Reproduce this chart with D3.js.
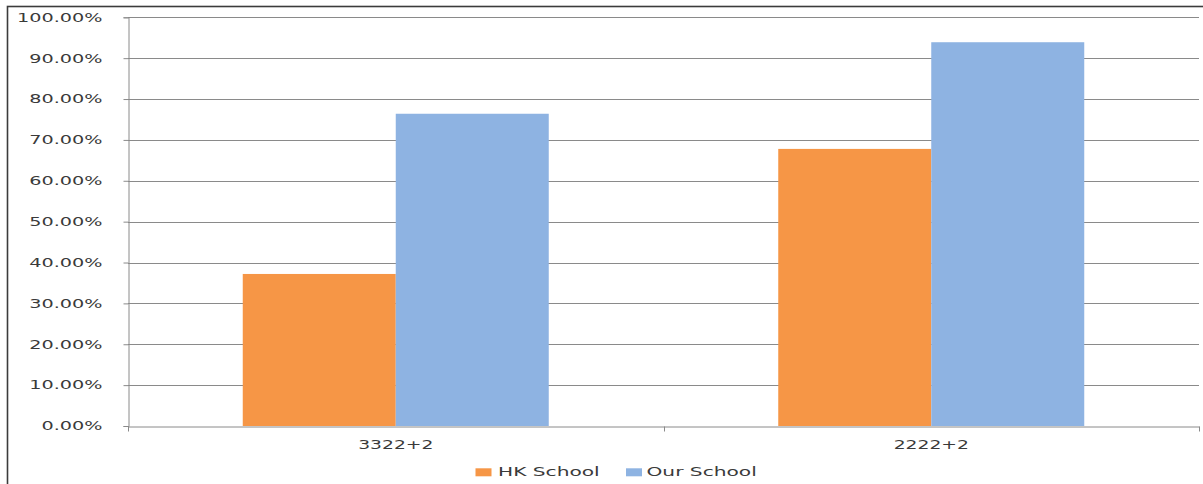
<!DOCTYPE html>
<html>
<head>
<meta charset="utf-8">
<script src="https://cdn.jsdelivr.net/npm/d3@7"></script>
<style>
  html, body { margin: 0; padding: 0; background: #fff; }
  svg { display: block; }
  text { font-family: "DejaVu Sans", Verdana, sans-serif; fill: #3a3a3a; }
</style>
</head>
<body>
<svg id="chart" width="1203" height="484"></svg>
<script>
// Pass rates by subject combination
const categories = ["3322+2", "2222+2"];
const seriesNames = ["HK School", "Our School"];
const hkSchool = [0.372, 0.678];
const ourSchool = [0.764, 0.939];
const yTicks = [0, 0.1, 0.2, 0.3, 0.4, 0.5, 0.6, 0.7, 0.8, 0.9, 1.0];
const colors = ["#F69646", "#8EB3E2"];

const svg = d3.select("#chart");
const W = 1203, H = 484;
const plot = { left: 128, right: 1199, top: 17.3, bottom: 426 };

// outer frame (right/bottom edges fall outside the view)
svg.append("rect")
  .attr("x", 7.5).attr("y", 6.5)
  .attr("width", W + 10).attr("height", H + 10)
  .attr("fill", "#fff").attr("stroke", "#3c3c3c").attr("stroke-width", 1.6);

const x0 = d3.scaleBand().domain(categories).range([plot.left, plot.right]).paddingInner(0).paddingOuter(0);
// gap width of 150% of a bar, split evenly on both sides of the pair
const x1 = d3.scaleBand().domain(seriesNames).range([0, x0.bandwidth()]).paddingInner(0).paddingOuter(0.75);
const y = d3.scaleLinear().domain([0, 1]).range([plot.bottom, plot.top]);

// stretch text horizontally to its wide set width
function widen(sel, factor) {
  sel.each(function () {
    const w = this.getComputedTextLength();
    d3.select(this).attr("textLength", w * factor).attr("lengthAdjust", "spacingAndGlyphs");
  });
}

// gridlines
svg.append("g").selectAll("line").data(yTicks.slice(1)).join("line")
  .attr("x1", plot.left).attr("x2", plot.right)
  .attr("y1", d => Math.round(y(d)) + 0.5).attr("y2", d => Math.round(y(d)) + 0.5)
  .attr("stroke", "#8a8a8a").attr("stroke-width", 1);

// bars
const rows = categories.map((c, i) => ({ cat: c, vals: [hkSchool[i], ourSchool[i]] }));
const g = svg.append("g");
rows.forEach(r => {
  g.append("g").attr("transform", `translate(${x0(r.cat)},0)`)
    .selectAll("rect").data(r.vals.map((v, j) => ({ v, s: seriesNames[j], c: colors[j] })))
    .join("rect")
    .attr("x", d => x1(d.s))
    .attr("width", x1.bandwidth())
    .attr("y", d => y(d.v))
    .attr("height", d => y(0) - y(d.v))
    .attr("fill", d => d.c);
});

// y axis
const yAxis = svg.append("g").attr("transform", `translate(${plot.left + 0.5},0)`)
  .call(d3.axisLeft(y).tickValues(yTicks).tickSize(5).tickPadding(21).tickFormat(d3.format(".2%")));
yAxis.attr("font-size", 12).attr("font-family", null);
yAxis.select(".domain").attr("stroke", "#8a8a8a");
yAxis.selectAll(".tick line").attr("stroke", "#8a8a8a");
yAxis.selectAll("text").attr("fill", "#3a3a3a").call(widen, 1.6);

// x axis
const xAxis = svg.append("g").attr("transform", `translate(0,${plot.bottom + 0.5})`)
  .call(d3.axisBottom(x0).tickSize(0).tickPadding(14));
xAxis.attr("font-size", 12).attr("font-family", null);
xAxis.select(".domain").attr("stroke", "#8a8a8a");
xAxis.selectAll("text").attr("fill", "#3a3a3a").call(widen, 1.56);
// category dividers
xAxis.append("g").selectAll("line")
  .data([plot.left, plot.left + x0.bandwidth(), plot.right])
  .join("line")
  .attr("x1", d => Math.round(d) + 0.5).attr("x2", d => Math.round(d) + 0.5)
  .attr("y1", 0).attr("y2", 5)
  .attr("stroke", "#8a8a8a");

// legend
const legend = svg.append("g");
const legendItems = [
  { name: seriesNames[0], color: colors[0], sx: 475.5, tx: 498 },
  { name: seriesNames[1], color: colors[1], sx: 626, tx: 646.5 }
];
legendItems.forEach(it => {
  legend.append("rect").attr("x", it.sx).attr("y", 468.3).attr("width", 16).attr("height", 8).attr("fill", it.color);
  legend.append("text").attr("x", it.tx).attr("y", 476).attr("font-size", 12)
    .attr("fill", "#3a3a3a").text(it.name).call(widen, 1.68);
});
</script>
</body>
</html>
